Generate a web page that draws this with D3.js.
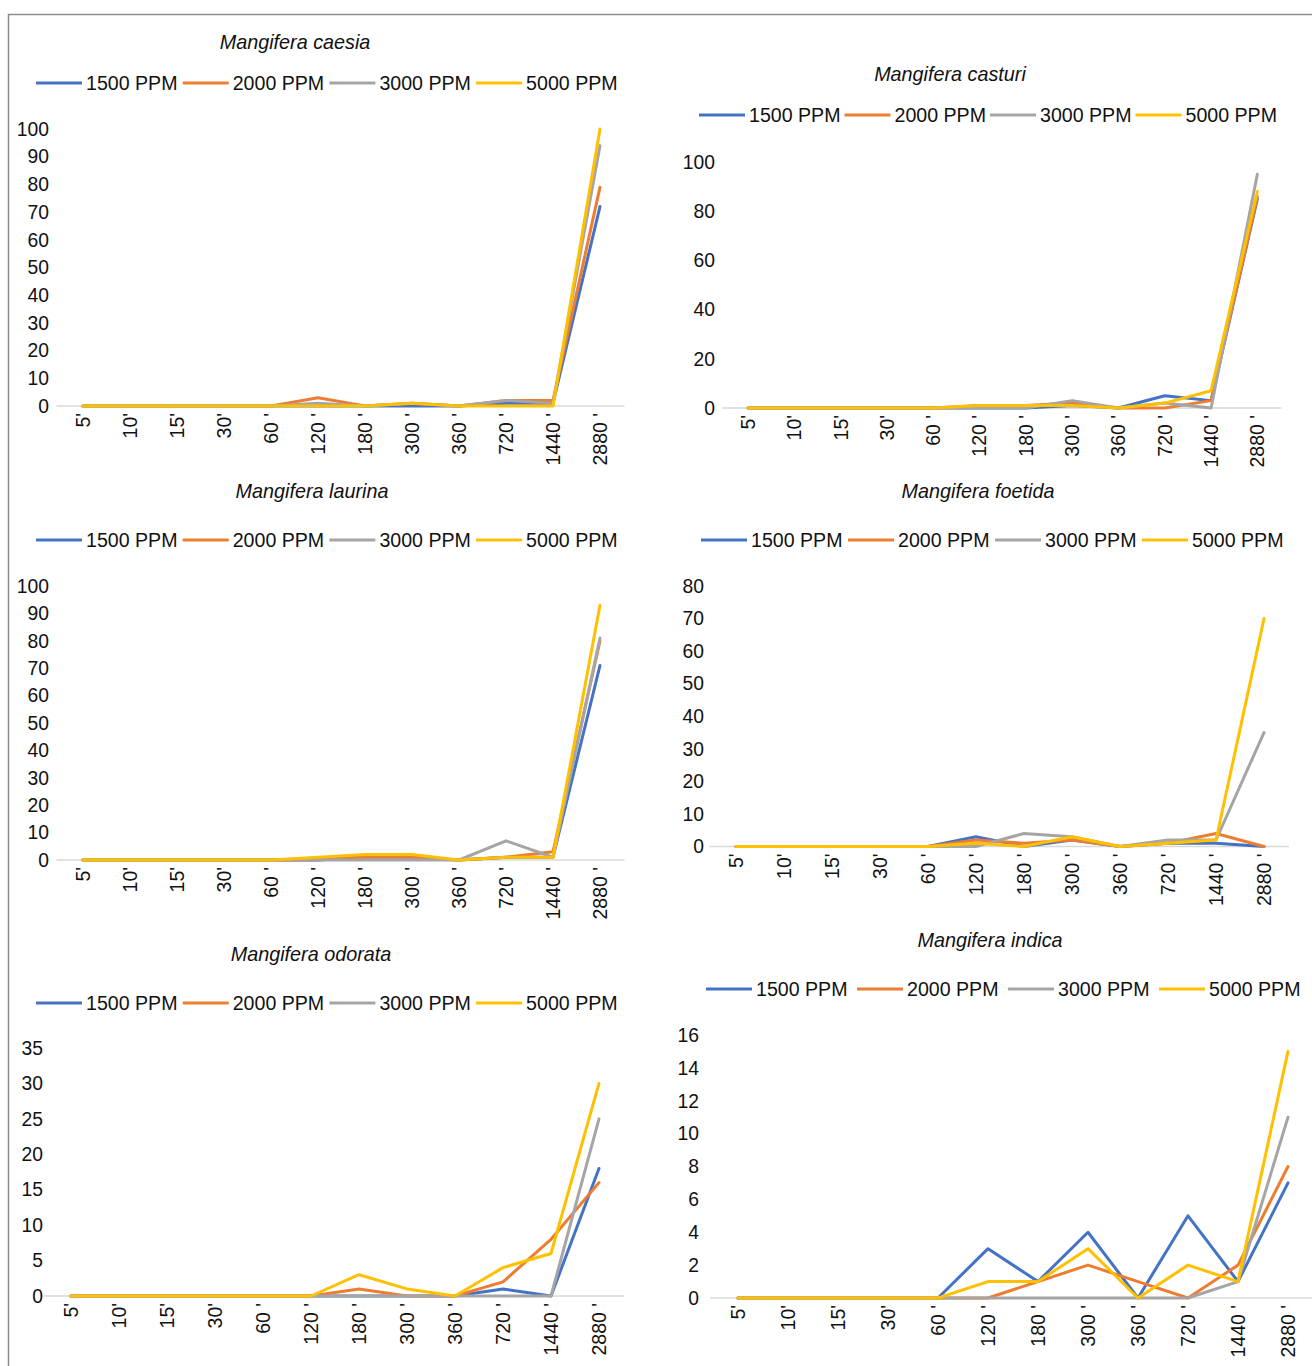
<!DOCTYPE html>
<html>
<head>
<meta charset="utf-8">
<script src="https://cdn.jsdelivr.net/npm/d3@7"></script>
<style>
  body { margin: 0; background: #fff; }
  svg { display: block; font-family: "Liberation Sans", Arial, sans-serif; }
</style>
</head>
<body>
<svg width="1312" height="1366"></svg>
<script>
// categorie (minuti) e serie
var categories = ["5'", "10'", "15'", "30'", "60 '", "120 '", "180 '", "300 '", "360 '", "720 '", "1440 '", "2880 '"];
var seriesNames = ["1500 PPM", "2000 PPM", "3000 PPM", "5000 PPM"];
var colors = ["#4472C4", "#ED7D31", "#A5A5A5", "#FFC000"];

// valori, una riga per serie
var caesia = [
    [0, 0, 0, 0, 0, 0, 0, 0, 0, 1, 1, 72],
    [0, 0, 0, 0, 0, 3, 0, 1, 0, 2, 2, 79],
    [0, 0, 0, 0, 0, 1, 0, 1, 0, 2, 1, 94],
    [0, 0, 0, 0, 0, 0, 0, 1, 0, 0, 0, 100]
];
var casturi = [
    [0, 0, 0, 0, 0, 0, 0, 1, 0, 5, 3, 85],
    [0, 0, 0, 0, 0, 1, 1, 2, 0, 0, 3, 86],
    [0, 0, 0, 0, 0, 0, 0, 3, 0, 2, 0, 95],
    [0, 0, 0, 0, 0, 1, 1, 1, 0, 2, 7, 88]
];
var laurina = [
    [0, 0, 0, 0, 0, 0, 1, 1, 0, 1, 1, 71],
    [0, 0, 0, 0, 0, 0, 1, 1, 0, 1, 3, 80],
    [0, 0, 0, 0, 0, 0, 0, 0, 0, 7, 1, 81],
    [0, 0, 0, 0, 0, 1, 2, 2, 0, 1, 1, 93]
];
var foetida = [
    [0, 0, 0, 0, 0, 3, 0, 2, 0, 1, 1, 0],
    [0, 0, 0, 0, 0, 2, 1, 2, 0, 1, 4, 0],
    [0, 0, 0, 0, 0, 0, 4, 3, 0, 2, 2, 35],
    [0, 0, 0, 0, 0, 1, 0, 3, 0, 1, 2, 70]
];
var odorata = [
    [0, 0, 0, 0, 0, 0, 0, 0, 0, 1, 0, 18],
    [0, 0, 0, 0, 0, 0, 1, 0, 0, 2, 8, 16],
    [0, 0, 0, 0, 0, 0, 0, 0, 0, 0, 0, 25],
    [0, 0, 0, 0, 0, 0, 3, 1, 0, 4, 6, 30]
];
var indica = [
    [0, 0, 0, 0, 0, 3, 1, 4, 0, 5, 1, 7],
    [0, 0, 0, 0, 0, 0, 1, 2, 1, 0, 2, 8],
    [0, 0, 0, 0, 0, 0, 0, 0, 0, 0, 1, 11],
    [0, 0, 0, 0, 0, 1, 1, 3, 0, 2, 1, 15]
];

// disposizione dei sei grafici
var panels = [
    { title: "Mangifera caesia", data: caesia, tx: 295, ty: 42, lx: 36, ly: 83, lstep: 146.7,
      x0: 59.5, x1: 623.5, y0: 406, y1: 129, max: 100, step: 10, labX: 49 },
    { title: "Mangifera casturi", data: casturi, tx: 950, ty: 74, lx: 699, ly: 115, lstep: 145.5,
      x0: 725, x1: 1280.5, y0: 408, y1: 162, max: 100, step: 20, labX: 715 },
    { title: "Mangifera laurina", data: laurina, tx: 312, ty: 491, lx: 36, ly: 540, lstep: 146.7,
      x0: 59.5, x1: 623.5, y0: 860, y1: 586, max: 100, step: 10, labX: 49 },
    { title: "Mangifera foetida", data: foetida, tx: 978, ty: 491, lx: 701, ly: 540, lstep: 147,
      x0: 712, x1: 1288, y0: 846.5, y1: 586, max: 80, step: 10, labX: 704 },
    { title: "Mangifera odorata", data: odorata, tx: 311, ty: 954, lx: 36, ly: 1003, lstep: 146.7,
      x0: 47, x1: 623, y0: 1296, y1: 1048, max: 35, step: 5, labX: 43 },
    { title: "Mangifera indica", data: indica, tx: 990, ty: 940, lx: 706, ly: 989, lstep: 151,
      x0: 713, x1: 1313, y0: 1298, y1: 1035, max: 16, step: 2, labX: 699 }
];

var svg = d3.select("svg");

// cornice esterna (solo lati sinistro e superiore visibili)
svg.append("path")
    .attr("d", "M8.5,1366 L8.5,14.5 L1312,14.5")
    .attr("fill", "none")
    .attr("stroke", "#8c8c8c")
    .attr("stroke-width", 1.5);

panels.forEach(function (p) {
    var g = svg.append("g");

    var x = d3.scaleBand().domain(categories).range([p.x0, p.x1]);
    var y = d3.scaleLinear().domain([0, p.max]).range([p.y0, p.y1]);

    // titolo
    g.append("text")
        .attr("x", p.tx)
        .attr("y", p.ty)
        .attr("dy", "0.35em")
        .attr("text-anchor", "middle")
        .attr("font-style", "italic")
        .attr("font-size", 19.8)
        .attr("fill", "#111")
        .text(p.title);

    // legenda
    var leg = g.selectAll(".leg")
        .data(seriesNames)
        .enter()
        .append("g")
        .attr("transform", function (d, i) { return "translate(" + (p.lx + i * p.lstep) + "," + p.ly + ")"; });
    leg.append("line")
        .attr("x1", 0).attr("x2", 46)
        .attr("y1", 0).attr("y2", 0)
        .attr("stroke", function (d, i) { return colors[i]; })
        .attr("stroke-width", 3);
    leg.append("text")
        .attr("x", 50)
        .attr("dy", "0.35em")
        .attr("font-size", 19.6)
        .attr("fill", "#111")
        .text(function (d) { return d; });

    // asse y: solo etichette
    var ticks = d3.range(0, p.max + 0.001, p.step);
    g.selectAll(".yl")
        .data(ticks)
        .enter()
        .append("text")
        .attr("x", p.labX)
        .attr("y", function (d) { return y(d); })
        .attr("dy", "0.35em")
        .attr("text-anchor", "end")
        .attr("font-size", 19.3)
        .attr("fill", "#111")
        .text(function (d) { return d; });

    // linea di base
    g.append("line")
        .attr("x1", p.x0 - 3).attr("x2", p.x1 + 1)
        .attr("y1", y(0)).attr("y2", y(0))
        .attr("stroke", "#d9d9d9")
        .attr("stroke-width", 1.5);

    // etichette categorie ruotate
    g.selectAll(".xl")
        .data(categories)
        .enter()
        .append("text")
        .attr("transform", function (d) {
            return "translate(" + (x(d) + x.bandwidth() / 2) + "," + (y(0) + 7) + ") rotate(-90)";
        })
        .attr("dy", "0.35em")
        .attr("text-anchor", "end")
        .attr("font-size", 19.5)
        .attr("fill", "#111")
        .text(function (d) { return d; });

    // linee delle serie
    var line = d3.line()
        .x(function (d, i) { return x(categories[i]) + x.bandwidth() / 2; })
        .y(function (d) { return y(d); });

    g.selectAll(".serie")
        .data(p.data)
        .enter()
        .append("path")
        .attr("d", line)
        .attr("fill", "none")
        .attr("stroke", function (d, i) { return colors[i]; })
        .attr("stroke-width", 3)
        .attr("stroke-linejoin", "round")
        .attr("stroke-linecap", "round");
});
</script>
</body>
</html>
